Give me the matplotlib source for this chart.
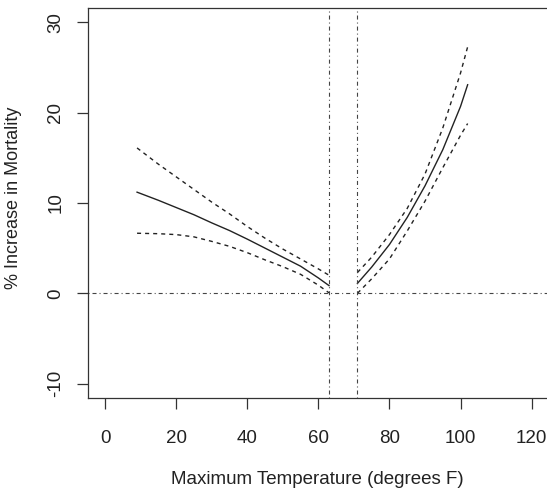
import matplotlib
matplotlib.use("Agg")
import matplotlib.pyplot as plt

plt.rcParams['font.family'] = ['Liberation Sans', 'DejaVu Sans']
plt.rcParams['lines.scale_dashes'] = False

# Cold side (below threshold)
x_cold = [9, 15, 20, 25, 30, 35, 40, 45, 50, 55, 60, 63]
est_cold = [11.2, 10.3, 9.5, 8.7, 7.8, 6.95, 6.0, 5.0, 4.0, 3.0, 1.7, 0.85]
upper_cold = [16.1, 14.3, 12.9, 11.5, 10.1, 8.8, 7.4, 6.1, 4.9, 3.8, 2.7, 2.0]
lower_cold = [6.65, 6.6, 6.5, 6.25, 5.75, 5.2, 4.5, 3.7, 2.95, 2.1, 0.9, 0.05]

# Hot side (above threshold)
x_hot = [71, 75, 80, 85, 90, 95, 100, 102]
est_hot = [1.1, 2.9, 5.4, 8.4, 11.9, 15.9, 20.7, 23.1]
upper_hot = [2.3, 4.0, 6.5, 9.4, 13.2, 18.3, 24.4, 27.3]
lower_hot = [0.0, 1.6, 3.8, 6.9, 10.2, 13.9, 17.5, 18.8]

thresholds = [63, 71]
x_ticks = [0, 20, 40, 60, 80, 100, 120]
y_ticks = [-10, 0, 10, 20, 30]

fig = plt.figure(figsize=(5.47, 4.97), dpi=100)
ax = fig.add_axes([88/547, 1-398/497, (548.7-88)/547, 390/497])

dash = (0, (2.9, 2.9))
dashdot = (0, (0.72, 2.16, 2.9, 2.16))
lc = '#222222'

ax.plot(x_cold, est_cold, color=lc, lw=1.0)
ax.plot(x_cold, upper_cold, color=lc, lw=1.0, linestyle=dash)
ax.plot(x_cold, lower_cold, color=lc, lw=1.0, linestyle=dash)
ax.plot(x_hot, est_hot, color=lc, lw=1.0)
ax.plot(x_hot, upper_hot, color=lc, lw=1.0, linestyle=dash)
ax.plot(x_hot, lower_hot, color=lc, lw=1.0, linestyle=dash)

ax.axhline(0, color='#444444', lw=0.8, linestyle=dashdot)
for t in thresholds:
    ax.axvline(t, color='#444444', lw=0.8, linestyle=dashdot)

ax.set_xlim(-4.8, 124.8)
ax.set_ylim(-11.6, 31.6)
ax.set_xticks(x_ticks)
ax.set_yticks(y_ticks)
ax.set_yticklabels([str(v) for v in y_ticks], rotation=90, va='center')

for s in ax.spines.values():
    s.set_color('#333333')
    s.set_linewidth(0.9)
ax.tick_params(direction='out', length=8, width=0.9, color='#333333',
               labelsize=13.5, labelcolor='#222222')
ax.tick_params(axis='x', pad=15)
ax.tick_params(axis='y', pad=9)

ax.set_xlabel('Maximum Temperature (degrees F)', fontsize=13.5, color='#222222')
ax.xaxis.set_label_coords((317.5-88)/460.7, (398-480)/390)
ax.xaxis.label.set_verticalalignment('center')
ax.set_ylabel('% Increase in Mortality', fontsize=13, color='#222222')
ax.yaxis.set_label_coords((14-88)/460.7, (398-198)/390)
ax.yaxis.label.set_verticalalignment('center')
ax.yaxis.label.set_horizontalalignment('center')

fig.savefig('out.png', dpi=100)
